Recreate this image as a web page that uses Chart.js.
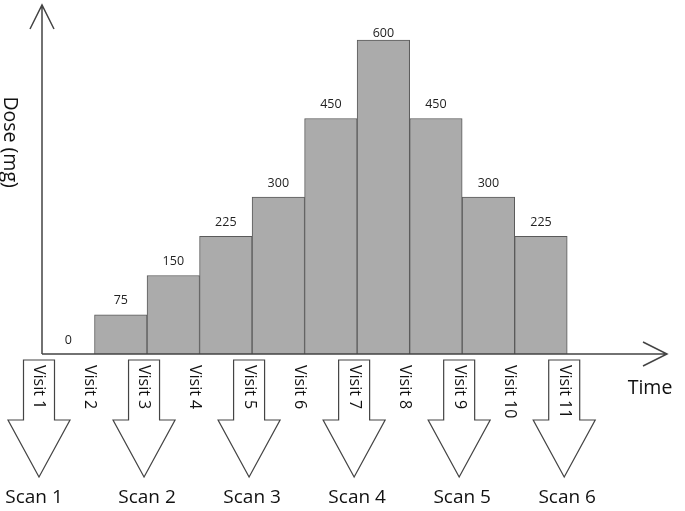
<!DOCTYPE html>
<html>
<head>
<meta charset="utf-8">
<script src="https://cdn.jsdelivr.net/npm/chart.js@4.4.0/dist/chart.umd.min.js"></script>
<style>
html,body{margin:0;padding:0;background:#fff;}
#wrap{width:685px;height:511px;position:relative;}
</style>
</head>
<body>
<div id="wrap"><canvas id="c" width="685" height="511"></canvas></div>
<script>
const visitLabels = ['Visit 1','Visit 2','Visit 3','Visit 4','Visit 5','Visit 6','Visit 7','Visit 8','Visit 9','Visit 10','Visit 11'];
const doses = [0, 75, 150, 225, 300, 450, 600, 450, 300, 225];
const scanVisits = [1, 3, 5, 7, 9, 11];
const scanLabels = ['Scan 1','Scan 2','Scan 3','Scan 4','Scan 5','Scan 6'];
const yTitle = 'Dose (mg)';
const xTitle = 'Time';

const FONT = '"Open Sans", "DejaVu Sans", sans-serif';
const LINE = '#444444';

const barData = doses.map((d, i) => ({x: i + 1.5, y: d}));

const overlay = {
  id: 'overlay',
  afterDatasetsDraw(chart) {
    const ctx = chart.ctx;
    const xs = chart.scales.x, ys = chart.scales.y;
    const ca = chart.chartArea;
    const x0 = xs.getPixelForValue(1);
    const y0 = ys.getPixelForValue(0);
    ctx.save();
    // axes
    ctx.strokeStyle = LINE;
    ctx.lineWidth = 1.5;
    ctx.beginPath();
    ctx.moveTo(x0, y0); ctx.lineTo(x0, ca.top);
    ctx.moveTo(x0, y0); ctx.lineTo(ca.right, y0);
    // arrowheads (open)
    ctx.moveTo(x0 - 12, ca.top + 24); ctx.lineTo(x0, ca.top); ctx.lineTo(x0 + 12, ca.top + 24);
    ctx.moveTo(ca.right - 24, y0 - 12); ctx.lineTo(ca.right, y0); ctx.lineTo(ca.right - 24, y0 + 12);
    ctx.stroke();

    // value labels
    ctx.fillStyle = '#222';
    ctx.font = '12.5px ' + FONT;
    ctx.textAlign = 'center';
    ctx.textBaseline = 'middle';
    doses.forEach((d, i) => {
      const px = xs.getPixelForValue(i + 1.5);
      let py = ys.getPixelForValue(d) - 14;
      if (py < ca.top + 30) py = ys.getPixelForValue(d) - 7;
      ctx.fillText(String(d), px, py);
    });

    // scan arrows
    ctx.strokeStyle = LINE;
    ctx.lineWidth = 1.2;
    ctx.fillStyle = '#fff';
    scanVisits.forEach(v => {
      const cx = xs.getPixelForValue(v) - 3;
      const top = y0 + 6, shaftEnd = y0 + 66, tip = y0 + 123;
      ctx.beginPath();
      ctx.moveTo(cx - 15.5, top);
      ctx.lineTo(cx + 15.5, top);
      ctx.lineTo(cx + 15.5, shaftEnd);
      ctx.lineTo(cx + 31, shaftEnd);
      ctx.lineTo(cx, tip);
      ctx.lineTo(cx - 31, shaftEnd);
      ctx.lineTo(cx - 15.5, shaftEnd);
      ctx.closePath();
      ctx.fill();
      ctx.stroke();
    });

    // visit labels (rotated, reading top-to-bottom)
    ctx.fillStyle = '#111';
    ctx.font = '16px ' + FONT;
    ctx.textAlign = 'left';
    ctx.textBaseline = 'middle';
    visitLabels.forEach((lab, i) => {
      const v = i + 1;
      const isScan = scanVisits.includes(v);
      const px = xs.getPixelForValue(v) + (isScan ? -3 : -5);
      ctx.save();
      ctx.translate(px, y0 + 11);
      ctx.rotate(Math.PI / 2);
      ctx.fillText(lab, 0, 0);
      ctx.restore();
    });

    // scan labels
    ctx.font = '19px ' + FONT;
    ctx.textAlign = 'center';
    ctx.textBaseline = 'middle';
    scanVisits.forEach((v, i) => {
      const px = xs.getPixelForValue(v) + (i === 0 ? -8 : 0);
      ctx.fillText(scanLabels[i], px, y0 + 144);
    });

    // axis titles
    ctx.font = '19.5px ' + FONT;
    ctx.textAlign = 'center';
    ctx.fillText(xTitle, ca.right - 17, y0 + 34);
    ctx.save();
    ctx.translate(10, ys.getPixelForValue(405));
    ctx.rotate(Math.PI / 2);
    ctx.fillText(yTitle, 0, 0);
    ctx.restore();
    ctx.restore();
  }
};

new Chart(document.getElementById('c'), {
  type: 'bar',
  data: {
    datasets: [{
      data: barData,
      backgroundColor: '#ababab',
      borderColor: '#5a5a5a',
      borderWidth: 1,
      barPercentage: 1,
      categoryPercentage: 1
    }]
  },
  options: {
    responsive: false,
    animation: false,
    events: [],
    layout: {padding: {left: 42, right: 18, top: 5, bottom: 157}},
    plugins: {legend: {display: false}, tooltip: {enabled: false}},
    scales: {
      x: {
        type: 'linear', min: 1, max: 12.9, offset: false, display: false,
        afterBuildTicks: s => { s.ticks = visitLabels.map((_, i) => ({value: i + 1})); }
      },
      y: {min: 0, max: 667, display: false}
    }
  },
  plugins: [overlay]
});
</script>
</body>
</html>
